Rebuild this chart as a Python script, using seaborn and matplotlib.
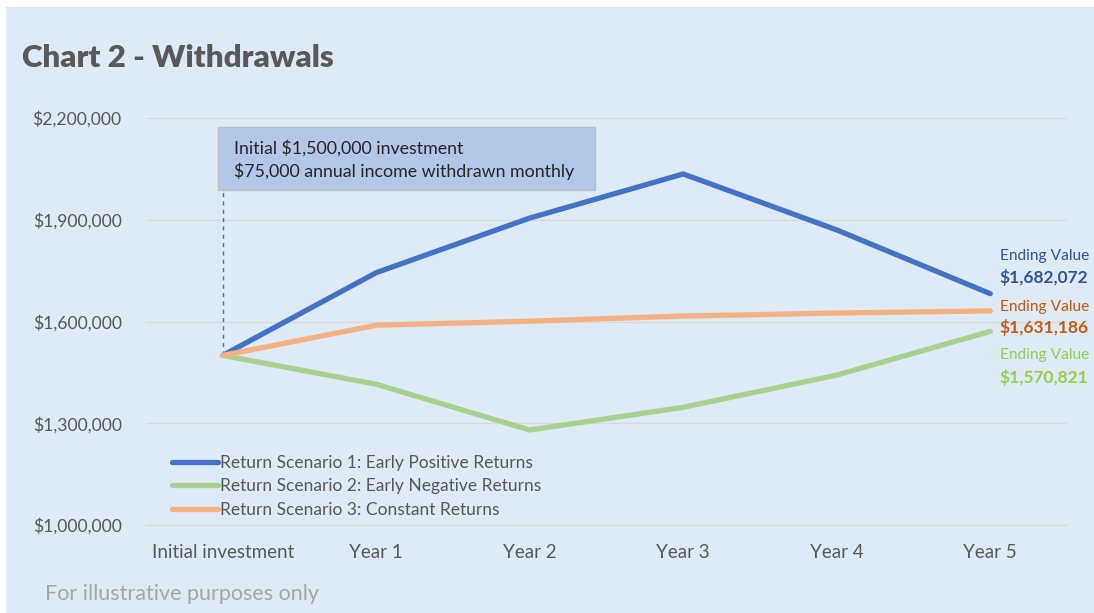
import matplotlib
matplotlib.use("Agg")
import matplotlib.pyplot as plt
from matplotlib.patches import Rectangle
import seaborn as sns
import pandas as pd

# ---- data ----
categories = ["Initial investment", "Year 1", "Year 2", "Year 3", "Year 4", "Year 5"]
scenario_names = [
    "Return Scenario 1: Early Positive Returns",
    "Return Scenario 2: Early Negative Returns",
    "Return Scenario 3: Constant Returns",
]
scenario1 = [1500000, 1744000, 1905000, 2035000, 1870000, 1682072]
scenario2 = [1500000, 1415000, 1280000, 1347000, 1442000, 1570821]
scenario3 = [1500000, 1589000, 1601000, 1616000, 1625000, 1631186]
y_ticks = [1000000, 1300000, 1600000, 1900000, 2200000]
annotation_lines = ["Initial $1,500,000 investment", "$75,000 annual income withdrawn monthly"]

colors = ["#4472C4", "#A9D18E", "#F4B183"]
label_colors = ["#2F5597", "#C55A11", "#92D050"]
BG = "#DEEAF6"

sns.set_style("white")
plt.rcParams["font.family"] = ["Lato", "DejaVu Sans"]

rows = []
for name, vals in zip(scenario_names, [scenario1, scenario2, scenario3]):
    for i, v in enumerate(vals):
        rows.append({"pos": i, "value": v, "scenario": name})
df = pd.DataFrame(rows)

W, H = 1094, 613
fig = plt.figure(figsize=(W / 100, H / 100), dpi=100, facecolor="white")
fig.patches.append(Rectangle((6 / W, 0), 1 - 6 / W, 1 - 7 / H, transform=fig.transFigure,
                             facecolor=BG, edgecolor="none", zorder=-10))

ax = fig.add_axes([146 / W, 1 - 525 / H, (1067 - 146) / W, (525 - 118) / H])
ax.set_facecolor(BG)
ax.patch.set_alpha(0)

sns.lineplot(data=df, x="pos", y="value", hue="scenario", palette=colors,
             hue_order=scenario_names, linewidth=3.8, sort=False, ax=ax,
             legend=True, zorder=3)

ax.set_xlim(-0.5, len(categories) - 0.5)
ax.set_ylim(y_ticks[0], y_ticks[-1])
ax.set_xticks(range(len(categories)))
ax.set_xticklabels(categories)
ax.set_yticks(y_ticks)
ax.set_yticklabels([f"${v:,.0f}" for v in y_ticks])
ax.set_xlabel("")
ax.set_ylabel("")
ax.tick_params(axis="both", length=0, labelcolor="#595959")
ax.tick_params(axis="x", pad=14, labelsize=13.5)
ax.tick_params(axis="y", pad=17.5, labelsize=12.6)
ax.grid(axis="y", color="#D9D9D9", linewidth=0.9)
ax.set_axisbelow(True)
for s in ["top", "right", "left"]:
    ax.spines[s].set_visible(False)
ax.spines["bottom"].set_color("#D9D9D9")
ax.spines["bottom"].set_linewidth(0.9)

# dashed connector from annotation box to initial point
ax.vlines(0, scenario1[0], 1988000, colors="#4472C4", linestyles=(0, (3, 3)), linewidth=1, zorder=2)

# legend
leg = ax.legend(loc="upper left", bbox_to_anchor=(172 / W, 1 - 455 / H),
                bbox_transform=fig.transFigure, frameon=False, fontsize=12.5,
                handlelength=2.65, handletextpad=0.1, labelspacing=0.42,
                borderpad=0, borderaxespad=0)
for t in leg.get_texts():
    t.set_color("#595959")

# annotation box
fig.patches.append(Rectangle((218 / W, 1 - 190 / H), 377 / W, 63 / H, transform=fig.transFigure,
                             facecolor="#B4C7E7", edgecolor="#BFBFBF", linewidth=1, zorder=5))
fig.text(234 / W, 1 - 148 / H, annotation_lines[0], fontsize=12.8, color="#262626",
         va="center", ha="left", zorder=6)
fig.text(234 / W, 1 - 171 / H, annotation_lines[1], fontsize=12.8, color="#262626",
         va="center", ha="left", zorder=6)

# ending value labels
end_label_y = [(256, 277), (307, 328), (355, 377)]
for vals, c, (y1, y2) in zip([scenario1, scenario3, scenario2], label_colors, end_label_y):
    fig.text(1000 / W, 1 - y1 / H, "Ending Value", fontsize=11.2, color=c, va="center", ha="left")
    fig.text(999 / W, 1 - y2 / H, f"${vals[-1]:,.0f}", fontsize=12.5, color=c,
             va="center", ha="left", fontweight="bold")

# title & footnote
fig.text(22 / W, 1 - 58 / H, "Chart 2 - Withdrawals", fontsize=22.5, fontweight="heavy",
         color="#595959", va="center", ha="left")
fig.text(45 / W, 1 - 594 / H, "For illustrative purposes only", fontsize=15.5,
         color="#A6A6A6", va="center", ha="left")

fig.savefig("out.png", dpi=100, facecolor=fig.get_facecolor())
